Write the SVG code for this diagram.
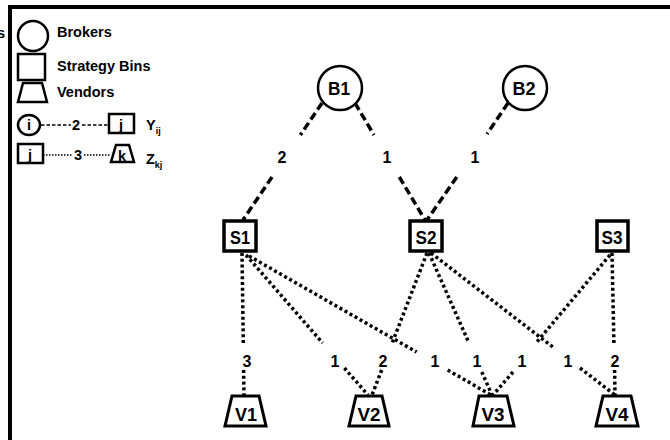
<svg xmlns="http://www.w3.org/2000/svg" width="670" height="440" viewBox="0 0 670 440">
<style>
text{font-family:"Liberation Sans",Arial,sans-serif;font-weight:bold;fill:#000}
.shape{fill:#fff;stroke:#000}
.node{font-size:18px;text-anchor:middle}
.lbl{font-size:16px;text-anchor:middle}
.leg{font-size:14.5px}
.dash{stroke:#000;stroke-width:3.5;stroke-dasharray:8 4;fill:none}
.dot{stroke:#000;stroke-width:3.5;stroke-dasharray:3 2.8;fill:none}
</style>
<rect width="670" height="440" fill="#fff"/>
<path d="M10,440 V7 H670" fill="none" stroke="#000" stroke-width="4"/>
<text x="-3" y="38" class="leg">s</text>

<g id="legend">
  <circle cx="33" cy="36" r="15" class="shape" stroke-width="2.5"/>
  <text x="57" y="37" class="leg">Brokers</text>
  <rect x="18" y="54" width="27" height="26" class="shape" stroke-width="2.5"/>
  <text x="57" y="71" class="leg">Strategy Bins</text>
  <polygon points="23,83 42,83 47,102 18,102" class="shape" stroke-width="2.5"/>
  <text x="57" y="97" class="leg">Vendors</text>
  <ellipse cx="29" cy="125" rx="11" ry="10" class="shape" stroke-width="2.5"/>
  <text x="29" y="130" class="leg" text-anchor="middle" font-size="13">i</text>
  <path d="M41,125 H71 M82,125 H109" stroke="#000" stroke-width="1.5" stroke-dasharray="3.5 2" fill="none"/>
  <text x="76" y="130" class="leg" text-anchor="middle" font-size="13" font-weight="normal">2</text>
  <rect x="109" y="114" width="25" height="19" class="shape" stroke-width="2.5"/>
  <text x="121" y="130" class="leg" text-anchor="middle" font-size="13">j</text>
  <text x="146" y="130" class="leg">Y<tspan font-size="9" dy="4">ij</tspan></text>
  <rect x="18" y="144" width="25" height="19" class="shape" stroke-width="2.5"/>
  <text x="30" y="160" class="leg" text-anchor="middle" font-size="13">j</text>
  <path d="M43,155 H73 M84,155 H111" stroke="#000" stroke-width="1.5" stroke-dasharray="1.5 1.5" fill="none"/>
  <text x="78" y="160" class="leg" text-anchor="middle" font-size="13" font-weight="normal">3</text>
  <polygon points="116,145 129,145 134,162 111,162" class="shape" stroke-width="2.5"/>
  <text x="122" y="161" class="leg" text-anchor="middle" font-size="12">k</text>
  <text x="146" y="164" class="leg">Z<tspan font-size="9" dy="4">kj</tspan></text>
</g>

<g id="connectors">
  <path class="dash" d="M322,103 L300.4,135 M272,177 L243,220"/>
  <path class="dash" d="M355,103 L374,135 M399.3,177 L425,220"/>
  <path class="dash" d="M508,103 L487,134 M456.8,177 L427,220"/>
  <path class="dot" d="M242,253 L243.3,343 M243.6,370 L244,395"/>
  <path class="dot" d="M246,255 L322.6,343 M344.4,368 L368,395"/>
  <path class="dot" d="M249,256 L416.6,352 M447.7,370 L491,395"/>
  <path class="dot" d="M427,253 L392.2,343 M381.7,370 L372,395"/>
  <path class="dot" d="M429,253 L469,343 M481.8,372 L492,395"/>
  <path class="dot" d="M431,253 L552.8,347 M580,368 L615,395"/>
  <path class="dot" d="M610,255 L536,343 M513,372 L493,395"/>
  <path class="dot" d="M612,253 L613.9,343 M614.6,370 L615,395"/>
  <g class="lbl">
    <text x="282" y="163">2</text>
    <text x="387" y="163">1</text>
    <text x="475" y="163">1</text>
    <text x="247" y="367">3</text>
    <text x="335" y="367">1</text>
    <text x="383" y="367">2</text>
    <text x="435" y="367">1</text>
    <text x="477" y="367">1</text>
    <text x="522" y="367">1</text>
    <text x="568" y="367">1</text>
    <text x="615" y="367">2</text>
  </g>
</g>

<g id="B1"><circle cx="340" cy="88" r="22" class="shape" stroke-width="2.5"/><text x="339" y="95" class="node" textLength="22" lengthAdjust="spacingAndGlyphs">B1</text></g>
<g id="B2"><circle cx="525" cy="88" r="22" class="shape" stroke-width="2.5"/><text x="524" y="95" class="node" textLength="23" lengthAdjust="spacingAndGlyphs">B2</text></g>

<g id="S1"><rect x="224" y="221" width="32" height="30" class="shape" stroke-width="3.5"/><text x="240" y="244" class="node" textLength="20" lengthAdjust="spacingAndGlyphs">S1</text></g>
<g id="S2"><rect x="410" y="221" width="32" height="30" class="shape" stroke-width="3.5"/><text x="426" y="244" class="node" textLength="21" lengthAdjust="spacingAndGlyphs">S2</text></g>
<g id="S3"><rect x="597" y="221" width="31" height="30" class="shape" stroke-width="3.5"/><text x="612" y="244" class="node" textLength="21" lengthAdjust="spacingAndGlyphs">S3</text></g>

<g id="V1"><polygon points="232,396 259,396 266,426 225,426" class="shape" stroke-width="3"/><text x="246" y="421" class="node" textLength="22" lengthAdjust="spacingAndGlyphs">V1</text></g>
<g id="V2"><polygon points="356,396 382,396 389,426 349,426" class="shape" stroke-width="3"/><text x="369" y="421" class="node" textLength="23" lengthAdjust="spacingAndGlyphs">V2</text></g>
<g id="V3"><polygon points="479,396 507,396 514,426 473,426" class="shape" stroke-width="3"/><text x="493" y="421" class="node" textLength="23" lengthAdjust="spacingAndGlyphs">V3</text></g>
<g id="V4"><polygon points="603,396 631,396 638,426 596,426" class="shape" stroke-width="3"/><text x="617" y="421" class="node" textLength="23" lengthAdjust="spacingAndGlyphs">V4</text></g>
</svg>
